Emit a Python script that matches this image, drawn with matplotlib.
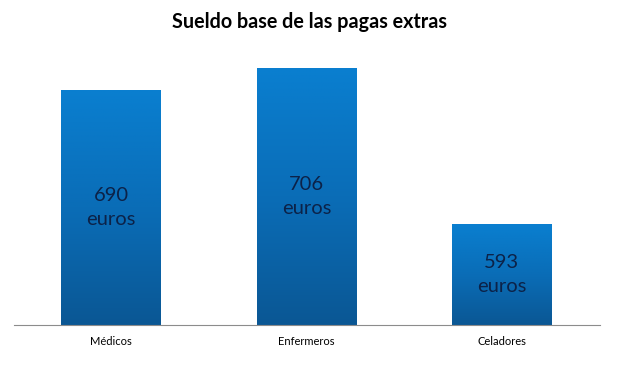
import numpy as np
import matplotlib
matplotlib.use("Agg")
import matplotlib.pyplot as plt
from matplotlib.colors import LinearSegmentedColormap

categories = ["Médicos", "Enfermeros", "Celadores"]
values = [690, 706, 593]
labels = ["690\neuros", "706\neuros", "593\neuros"]
title = "Sueldo base de las pagas extras"

ymin, ymax = 520, 726

plt.rcParams['font.family'] = ['Lato', 'DejaVu Sans']

fig = plt.figure(figsize=(6.2, 3.68), dpi=100)
ax = fig.add_axes([0.022, 0.117, 0.945, 0.774])

# top lighter, bottom darker
cmap = LinearSegmentedColormap.from_list("bar", ["#0b5794", "#0a6db7", "#0a7fd0"])
grad = np.linspace(0, 1, 256).reshape(-1, 1)

x = np.arange(len(categories))
bars = ax.bar(x, [v - ymin for v in values], bottom=ymin, width=0.51,
              color="none", edgecolor="none")
for b in bars:
    x0, y0 = b.get_x(), b.get_y()
    x1, y1 = x0 + b.get_width(), y0 + b.get_height()
    im = ax.imshow(grad, cmap=cmap, aspect="auto", origin="lower",
                   extent=[x0, x1, y0, y1], zorder=1)
    im.set_clip_path(b)

for xi, v, lab in zip(x, values, labels):
    ax.text(xi, (ymin + v) / 2, lab, ha="center", va="center",
            fontsize=14.5, color="#0c2248", linespacing=1.55, zorder=3)

ax.set_xlim(-0.5, 2.5)
ax.set_ylim(ymin, ymax)
ax.set_xticks(x)
ax.set_xticklabels(categories, fontsize=8)
ax.tick_params(axis="x", length=0, pad=8)
ax.set_yticks([])
for s in ["top", "right", "left"]:
    ax.spines[s].set_visible(False)
ax.spines["bottom"].set_color("#8c8c8c")
ax.spines["bottom"].set_zorder(4)

fig.text(0.5, 0.94, title, ha="center", va="center",
         fontsize=14.2, fontweight="bold")

fig.savefig("out.png", dpi=100)
